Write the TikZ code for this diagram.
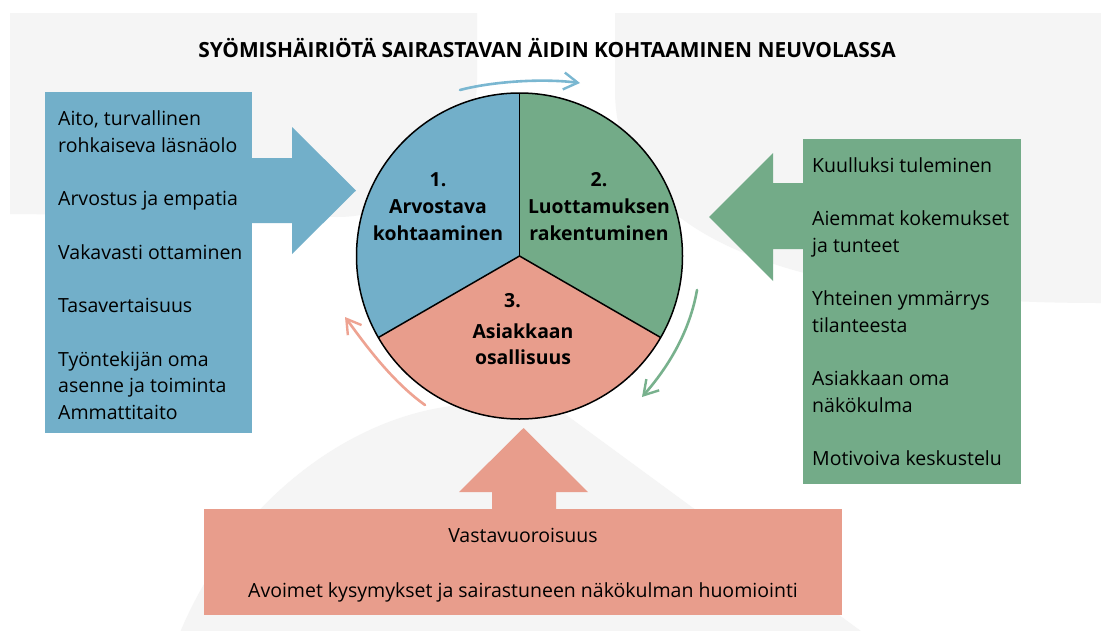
\documentclass[tikz,border=0pt]{standalone}
\usepackage{fontspec}
\setmainfont{Open Sans}
\usetikzlibrary{arrows.meta}
\definecolor{bgC}{RGB}{245,245,245}
\definecolor{blueC}{RGB}{114,175,201}
\definecolor{greenC}{RGB}{115,171,136}
\definecolor{pinkC}{RGB}{232,157,140}
\definecolor{blueA}{RGB}{122,183,209}
\definecolor{greenA}{RGB}{120,177,141}
\definecolor{pinkA}{RGB}{238,163,146}
\tikzset{
  boxshape/.style={inner sep=0pt, outer sep=0pt, anchor=north west},
  bodytext/.style={inner sep=0pt, anchor=base west},
  cyclearrow/.style={line width=2.6pt, line cap=round, -{Straight Barb[length=14pt,width=17pt,line width=2.4pt]}},
  sectortext/.style={inner sep=0pt, anchor=base, font=\fontsize{19.4}{27}\selectfont\bfseries}
}
\newcommand{\bodyfont}{\fontsize{19.5}{26.7}\selectfont}
\begin{document}
\begin{tikzpicture}[x=1pt,y=-1pt]
\clip (0,0) rectangle (1101,630);
\fill[white] (0,0) rectangle (1101,630);
% background shapes
\fill[bgC] (10,13) -- (477,13) -- (477,80) .. controls (477,156) and (413,217) .. (337,217) -- (10,214) -- cycle;
\fill[bgC] (615,13) -- (1101,13) -- (1101,303) .. controls (820,303) and (615,250) .. (615,90) -- cycle;
\fill[bgC] (175,645) .. controls (230,500) and (360,405) .. (480,404) .. controls (520,404) and (545,405) .. (565,414) -- (880,645) -- cycle;

% title
\node[inner sep=0pt, anchor=base] (title) at (547,57) {\fontsize{20.9}{25}\selectfont\bfseries SYÖMISHÄIRIÖTÄ SAIRASTAVAN ÄIDIN KOHTAAMINEN NEUVOLASSA};

% blue box and arrow
\node[boxshape, fill=blueC, minimum width=207pt, minimum height=341pt] (bluebox) at (45,92) {};
\fill[blueC] (250,158) -- (292,158) -- (292,127) -- (356,190.5) -- (292,254) -- (292,223) -- (250,223) -- cycle;
\node[bodytext] (bluetext) at (58,125.7) {\parbox[t]{190pt}{\raggedright\bodyfont
Aito, turvallinen\\rohkaiseva läsnäolo\\[26.7pt]
Arvostus ja empatia\\[26.7pt]
Vakavasti ottaminen\\[26.7pt]
Tasavertaisuus\\[26.7pt]
Työntekijän oma\\asenne ja toiminta\\Ammattitaito}};

% green box and arrow
\node[boxshape, fill=greenC, minimum width=218pt, minimum height=345pt] (greenbox) at (803,139) {};
\fill[greenC] (805,183) -- (773,183) -- (773,153) -- (709,217) -- (773,281) -- (773,249) -- (805,249) -- cycle;
\node[bodytext] (greentext) at (812,172) {\parbox[t]{205pt}{\raggedright\bodyfont
Kuulluksi tuleminen\\[26.7pt]
Aiemmat kokemukset\\ja tunteet\\[26.7pt]
Yhteinen ymmärrys\\tilanteesta\\[26.7pt]
Asiakkaan oma\\näkökulma\\[26.7pt]
Motivoiva keskustelu}};

% pink box and arrow
\node[boxshape, fill=pinkC, minimum width=638.5pt, minimum height=106pt] (pinkbox) at (203.5,509) {};
\fill[pinkC] (492,511) -- (492,492) -- (459,492) -- (523.5,428) -- (588,492) -- (556,492) -- (556,511) -- cycle;
\node[inner sep=0pt, anchor=base] (pinktext) at (523,542) {\parbox[t]{620pt}{\centering\fontsize{19.5}{27}\selectfont
Vastavuoroisuus\\[28pt]
Avoimet kysymykset ja sairastuneen näkökulman huomiointi}};

% circle
\coordinate (C) at (519.5,256);
\fill[blueC] (C) -- ++(150:163) arc[start angle=150, end angle=270, radius=163] -- cycle;
\fill[greenC] (C) -- ++(270:163) arc[start angle=270, end angle=390, radius=163] -- cycle;
\fill[pinkC] (C) -- ++(30:163) arc[start angle=30, end angle=150, radius=163] -- cycle;
\draw[line width=1.5pt] (C) circle[radius=163];
\draw[line width=1.5pt] (C) -- ++(270:163);
\draw[line width=1.5pt] (C) -- ++(150:163);
\draw[line width=1.5pt] (C) -- ++(30:163);

% sector texts
\node[sectortext] (s1) at (438,186) {\parbox[t]{160pt}{\centering 1.\\Arvostava\\kohtaaminen}};
\node[sectortext] (s2) at (599,186) {\parbox[t]{160pt}{\centering 2.\\Luottamuksen\\rakentuminen}};
\node[sectortext] (s3n) at (512.5,307) {3.};
\node[sectortext] (s3) at (523,338) {\parbox[t]{160pt}{\centering Asiakkaan\\[-1pt]osallisuus}};

% cycle arrows
\coordinate (b1) at (460,90);
\coordinate (b2) at (580,83);
\coordinate (g1) at (697,290);
\coordinate (g2) at (642,397);
\coordinate (p1) at (425,405);
\coordinate (p2) at (345,317);
\draw[cyclearrow, blueA] (b1) .. controls (490,82) and (540,78) .. (b2);
\draw[cyclearrow, greenA] (g1) .. controls (690,330) and (670,365) .. (g2);
\draw[cyclearrow, pinkA] (p1) .. controls (390,380) and (362,340) .. (p2);
\end{tikzpicture}
\end{document}
